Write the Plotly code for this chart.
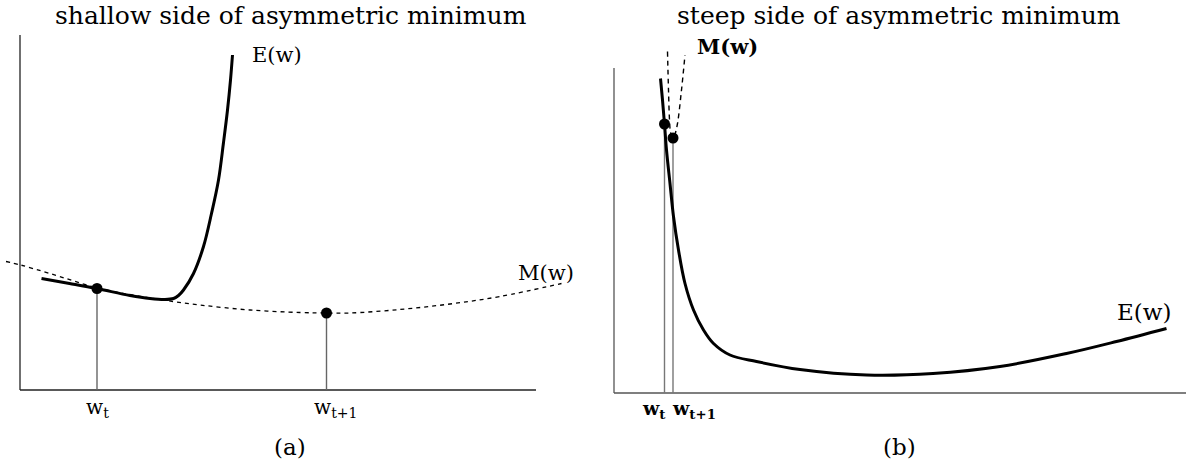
import plotly.graph_objects as go

# ---------------- data (diagram units: 1 unit ~ 50 px) ----------------
# Panel (a): shallow side
a_E_x = [0.43, 0.99, 1.53, 2.2, 2.6, 2.9, 3.07, 3.17, 3.27, 3.47, 3.67, 3.83, 3.97, 4.07, 4.15, 4.21, 4.25]
a_E_y = [2.23, 2.13, 2.03, 1.89, 1.83, 1.81, 1.83, 1.89, 2.0, 2.33, 2.87, 3.53, 4.2, 4.95, 5.6, 6.2, 6.7]
a_M_x = [-0.28, 0.01, 0.6, 1.6, 2.86, 3.6, 4.6, 5.6, 6.14, 6.6, 7.6, 8.6, 9.6, 10.83]
a_M_y = [2.57, 2.5, 2.33, 2.03, 1.8, 1.7, 1.6, 1.55, 1.54, 1.54, 1.61, 1.72, 1.87, 2.13]
a_w = [1.54, 6.13]          # w_t, w_t+1
a_w_val = [2.03, 1.54]      # values at the dots
a_axis_x = [0, 10.32]
a_axis_y = [0, 7.1]

# Panel (b): steep side
b_E_x = [0.93, 0.97, 1.01, 1.05, 1.12, 1.19, 1.29, 1.42, 1.59, 1.79, 1.99, 2.32, 2.85,
         3.72, 5.05, 6.38, 7.72, 9.05, 10.05, 11.05]
b_E_y = [6.29, 5.86, 5.38, 4.86, 4.19, 3.53, 2.86, 2.19, 1.66, 1.26, 0.99, 0.76, 0.63,
         0.47, 0.36, 0.39, 0.53, 0.79, 1.03, 1.29]
b_M_x = [1.07, 1.09, 1.11, 1.13, 1.17, 1.22, 1.27, 1.35, 1.42]
b_M_y = [6.83, 6.06, 5.46, 5.22, 5.1, 5.18, 5.39, 6.06, 6.76]
b_w = [1.01, 1.18]
b_w_val = [5.38, 5.1]
b_axis_x = [0, 11.44]
b_axis_y = [0, 6.5]

titles = ["shallow side of asymmetric minimum", "steep side of asymmetric minimum"]
panel_labels = ["(a)", "(b)"]
w_labels = ["w<sub>t</sub>", "w<sub>t+1</sub>"]

FONT = "DejaVu Serif"
fig = go.Figure()

def add_panel(xa, ya, Ex, Ey, Mx, My, w, wv, ax_x, ax_y, mdash, mwidth, axcol, vcol):
    # axes
    fig.add_trace(go.Scatter(x=[ax_x[0], ax_x[0]], y=[ax_y[0], ax_y[1]], mode="lines",
                             line=dict(color=axcol, width=1.3), xaxis=xa, yaxis=ya))
    fig.add_trace(go.Scatter(x=[ax_x[0], ax_x[1]], y=[ax_y[0], ax_y[0]], mode="lines",
                             line=dict(color=axcol, width=1.3), xaxis=xa, yaxis=ya))
    # vertical drop lines
    for xi, yi in zip(w, wv):
        fig.add_trace(go.Scatter(x=[xi, xi], y=[0, yi], mode="lines",
                                 line=dict(color=vcol, width=1.4), xaxis=xa, yaxis=ya))
    # M(w) dashed
    fig.add_trace(go.Scatter(x=Mx, y=My, mode="lines", line_shape="spline",
                             line=dict(color="black", width=mwidth, dash=mdash),
                             xaxis=xa, yaxis=ya))
    # E(w)
    fig.add_trace(go.Scatter(x=Ex, y=Ey, mode="lines", line_shape="spline",
                             line=dict(color="black", width=3), xaxis=xa, yaxis=ya))
    # dots
    fig.add_trace(go.Scatter(x=w, y=wv, mode="markers",
                             marker=dict(color="black", size=11), xaxis=xa, yaxis=ya))

add_panel("x", "y", a_E_x, a_E_y, a_M_x, a_M_y, a_w, a_w_val, a_axis_x, a_axis_y,
          "4px,4px", 1.3, "#222222", "#666666")
add_panel("x2", "y2", b_E_x, b_E_y, b_M_x, b_M_y, b_w, b_w_val, b_axis_x, b_axis_y,
          "5px,4px", 1.4, "#555555", "#777777")

ann = []
def txt(x, y, t, xr, yr, size, bold=False):
    ann.append(dict(x=x, y=y, xref=xr, yref=yr, text=("<b>%s</b>" % t) if bold else t,
                    showarrow=False, xanchor="center", yanchor="middle",
                    font=dict(family=FONT, size=size, color="black")))

# panel (a) texts
txt(5.42, 7.5, titles[0], "x", "y", 25)
txt(5.4, -1.14, panel_labels[0], "x", "y", 23)
txt(5.14, 6.7, "E(w)", "x", "y", 21)
txt(10.51, 2.34, "M(w)", "x", "y", 21)
txt(a_w[0], -0.36, w_labels[0], "x", "y", 20)
txt(a_w[1] + 0.17, -0.36, w_labels[1], "x", "y", 20)
# panel (b) texts
txt(5.7, 7.56, titles[1], "x2", "y2", 25)
txt(5.7, -1.08, panel_labels[1], "x2", "y2", 23)
txt(2.27, 6.93, "M(w)", "x2", "y2", 21, bold=True)
txt(10.59, 1.63, "E(w)", "x2", "y2", 23)
txt(0.79, -0.32, w_labels[0], "x2", "y2", 19, bold=True)
txt(1.6, -0.32, w_labels[1], "x2", "y2", 19, bold=True)

ax_common = dict(visible=False, showgrid=False, zeroline=False, fixedrange=True)
fig.update_layout(
    width=1186, height=468,
    margin=dict(l=0, r=0, t=0, b=0),
    paper_bgcolor="white", plot_bgcolor="white",
    showlegend=False,
    hovermode=False,
    annotations=ann,
    xaxis=dict(domain=[0, 600 / 1186], range=[-0.4, 11.6], **ax_common),
    yaxis=dict(domain=[0, 1], range=[-1.56, 7.8], **ax_common),
    xaxis2=dict(domain=[600 / 1186, 1], range=[-0.28, 11.44], anchor="y2", **ax_common),
    yaxis2=dict(domain=[0, 1], range=[-1.5, 7.86], anchor="x2", **ax_common),
)

fig.write_html("out.html", config={"displayModeBar": False},
               post_script="document.body.style.margin='0px';")
